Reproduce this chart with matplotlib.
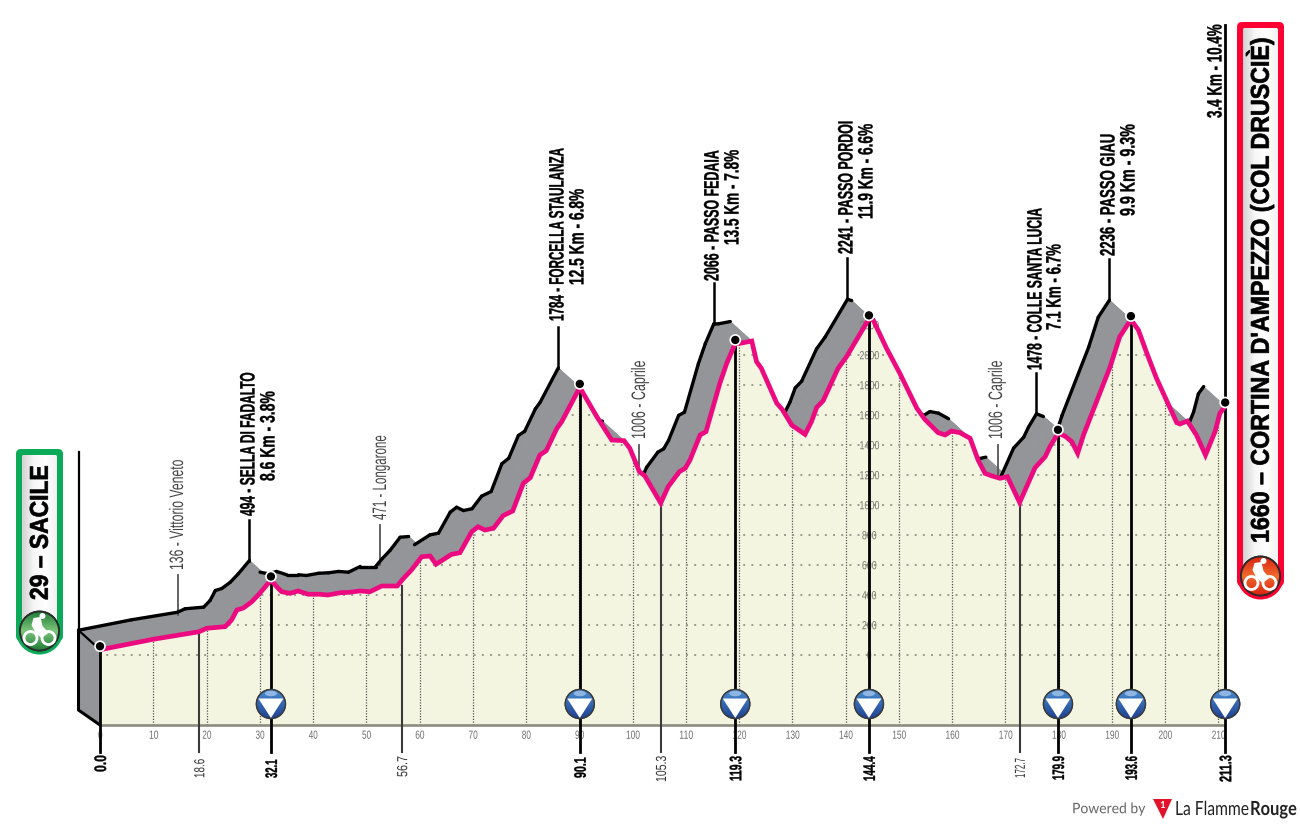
import numpy as np
import matplotlib
matplotlib.use("Agg")
import matplotlib.pyplot as plt
from matplotlib.colors import LinearSegmentedColormap
from matplotlib.font_manager import FontProperties
from matplotlib.patches import Circle, Ellipse, FancyBboxPatch, Polygon
from matplotlib.patheffects import AbstractPathEffect
from matplotlib.textpath import TextPath
from matplotlib.transforms import Affine2D

# profile of the stage
km = [0, 10.0, 18.6, 20.0, 23.5, 24.7, 25.7, 26.9, 28.5, 30.0, 32.1, 33.2, 34.1, 35.7, 37.2, 39.1,
      41.3, 42.8, 45.1, 46.9, 48.8, 50.7, 52.9, 55.8, 57.0, 58.5, 60.4, 62.0, 63.1, 66.0, 67.6,
      69.8, 71.0, 72.3, 73.9, 75.7, 77.5, 79.5, 80.8, 82.6, 83.8, 85.8, 86.7, 90.1, 93.3, 96.1,
      98.4, 99.5, 101.3, 102.3, 105.3, 106.7, 108.8, 109.9, 110.8, 112.7, 113.8, 116.4, 117.7,
      119.3, 120.2, 122.4, 123.3, 124.2, 127.1, 128.1, 129.9, 132.4, 133.6, 134.6, 135.8, 138.6,
      140.2, 144.4, 145.2, 147.7, 150.2, 153.4, 154.9, 157.4, 158.7, 159.9, 161.5, 163.4, 164.9,
      166.2, 167.4, 169.0, 170.4, 172.7, 175.6, 177.5, 178.4, 179.9, 181.2, 182.5, 183.6, 184.7,
      189.7, 191.5, 193.6, 195.0, 196.6, 198.4, 202.2, 202.8, 204.2, 205.9, 207.6, 209.4, 210.3,
      211.3]
elevation = [35, 105, 155, 178, 189, 233, 300, 313, 355, 411, 500, 455, 422, 411, 427, 405,
             405, 400, 415, 418, 427, 422, 460, 460, 511, 567, 655, 660, 605, 671, 682,
             822, 855, 833, 845, 929, 960, 1145, 1182, 1333, 1362, 1511, 1555, 1784, 1589, 1433,
             1429, 1378, 1222, 1195, 1013, 1122, 1222, 1245, 1300, 1467, 1489, 1811, 1945,
             2077, 2078, 2093, 1955, 1911, 1678, 1638, 1533, 1471, 1555, 1651, 1695, 1911,
             1989, 2241, 2233, 2045, 1878, 1645, 1571, 1482, 1467, 1493, 1482, 1445, 1300,
             1211, 1195, 1178, 1189, 1017, 1249, 1322, 1389, 1478, 1460, 1422, 1345, 1467,
             1922, 2122, 2236, 2167, 2011, 1845, 1549, 1540, 1560, 1467, 1333, 1489, 1611,
             1660]

km_ticks = list(range(0, 220, 10))
ele_ticks = list(range(0, 2400, 200))

# climbs (peak km / m, and the two lines of text)
climb_km = [32.1, 90.1, 119.3, 144.4, 179.9, 193.6]
climb_ele = [500, 1784, 2077, 2241, 1478, 2236]
climb_names = ["494 - SELLA DI FADALTO", "1784 - FORCELLA STAULANZA", "2066 - PASSO FEDAIA",
               "2241 - PASSO PORDOI", "1478 - COLLE SANTA LUCIA", "2236 - PASSO GIAU"]
climb_stats = ["8.6 Km - 3.8%", "12.5 Km - 6.8%", "13.5 Km - 7.8%",
               "11.9 Km - 6.6%", "7.1 Km - 6.7%", "9.9 Km - 9.3%"]

# towns
town_km = [18.6, 56.7, 105.3, 172.7]
town_ele = [136, 471, 1006, 1006]
town_names = ["136 - Vittorio Veneto", "471 - Longarone", "1006 - Caprile", "1006 - Caprile"]

# kms marked below the axis
bold_km = [0.0, 32.1, 90.1, 119.3, 144.4, 179.9, 193.6, 211.3]
bold_start_ele = [35, 500, 1784, 2077, 2241, 1478, 2236, 1660]
thin_km = [18.6, 56.7, 105.3, 172.7]
thin_start_ele = [155, 460, 1013, 1017]
marker_km = [32.1, 90.1, 119.3, 144.4, 179.9, 193.6, 211.3]

PINK = "#EC0A80"
GREY = "#939598"
FILL = "#F4F5E1"
GREEN = "#0BAA58"
RED = "#FF0033"

# scale of the picture: px per km and px per metre
PX_KM = 5.325
PX_M = 0.15
BACK_X = -21.5 / PX_KM
BACK_Y = 19.5 / PX_M
BASE = -467
BELOW = -647
CAP_MID = 36  # half the cap height in text path units


class FitText(AbstractPathEffect):
    # squeeze the glyphs along the baseline to a length in px, stretch them across it
    def __init__(self, length, tall=1.0, stroke=0.0):
        self.length = length
        self.tall = tall
        self.stroke = stroke

    def draw_path(self, renderer, gc, tpath, affine, rgbFace=None):
        box = tpath.get_extents()
        unit = np.hypot(*(affine.transform_point((1, 0)) - affine.transform_point((0, 0))))
        k = self.length / (box.width * unit)
        fit = Affine2D().translate(-box.x0, -CAP_MID).scale(k, self.tall).translate(box.x0, 0)
        gc0 = renderer.new_gc()
        gc0.copy_properties(gc)
        if self.stroke:
            gc0.set_linewidth(self.stroke)
            gc0.set_foreground(gc.get_rgb())
        renderer.draw_path(gc0, tpath, fit + affine, rgbFace)
        gc0.restore()


def fitted(s, size, length, weight, family, stroke=0.0):
    # nominal size whose natural width is no more than the wanted length
    prop = FontProperties(family=family, weight=weight)
    natural = TextPath((0, 0), s, size=size, prop=prop).get_extents().width * 100 / 72
    nominal = size * min(1.0, length / natural)
    return nominal, [FitText(length, size / nominal, stroke)]


fig = plt.figure(figsize=(13, 8.25), dpi=100)
ax = fig.add_axes([0, 0, 1, 1], zorder=1)
ax.set_xlim(-100 / PX_KM, 1200 / PX_KM)
ax.set_ylim((655 - 825) / PX_M, 655 / PX_M)
ax.axis("off")
ov = fig.add_axes([0, 0, 1, 1], zorder=2)
ov.set_xlim(0, 1300)
ov.set_ylim(825, 0)
ov.axis("off")
ov.patch.set_alpha(0)


def to_px(x, y):
    return ov.transData.inverted().transform(ax.transData.transform((x, y)))


def vtext(x, y0, y1, s, size, weight="bold", color="black", z=10, stroke=0.25):
    nominal, fx = fitted(s, size, y0 - y1, weight, "Liberation Sans", stroke)
    ov.text(x, y0, s, rotation=90, rotation_mode="anchor", ha="left", va="baseline",
            family="Liberation Sans", fontsize=nominal, fontweight=weight, color=color,
            zorder=z, path_effects=fx)


def htext(axis, x, y, w, s, size, color, weight="normal", family="Liberation Sans", z=10):
    nominal, fx = fitted(s, size, w, weight, family)
    axis.text(x, y, s, ha="left", va="baseline", family=family, fontsize=nominal, fontweight=weight,
              color=color, zorder=z, path_effects=fx)


def gradient(patch, extent, colors, horizontal=False, z=5):
    cmap = LinearSegmentedColormap.from_list("g", colors)
    vals = np.linspace(0, 1, 128)
    arr = vals[None, :] if horizontal else vals[:, None]
    im = ov.imshow(arr, cmap=cmap, extent=extent, aspect="auto", zorder=z,
                   interpolation="bilinear")
    im.set_clip_path(patch)
    ov.set_xlim(0, 1300)
    ov.set_ylim(825, 0)


# grey side of the road, one quad per segment
for i in range(len(km) - 1):
    quad = [(km[i], elevation[i]), (km[i + 1], elevation[i + 1]),
            (km[i + 1] + BACK_X, elevation[i + 1] + BACK_Y), (km[i] + BACK_X, elevation[i] + BACK_Y)]
    ax.add_patch(Polygon(quad, closed=True, fc=GREY, ec=GREY, lw=0.5, zorder=1))
    drop = (elevation[i] - elevation[i + 1]) * PX_M / ((km[i + 1] - km[i]) * PX_KM)
    if drop < 0.62:
        ax.plot([km[i] + BACK_X, km[i + 1] + BACK_X],
                [elevation[i] + BACK_Y, elevation[i + 1] + BACK_Y],
                color="black", lw=2.4, solid_capstyle="round", zorder=1.5)

# back wall at the start
ax.add_patch(Polygon([(km[0], elevation[0]), (km[0], BASE), (km[0] + BACK_X, BASE + 100),
                      (km[0] + BACK_X, elevation[0] + BACK_Y)], closed=True, fc=GREY, ec="none", zorder=1))
ax.plot([km[0] + BACK_X, km[0] + BACK_X, km[0]], [elevation[0] + BACK_Y, BASE + 100, BASE],
        color="black", lw=2.2, zorder=1.6)
ax.plot([km[0] + BACK_X, km[0]], [elevation[0] + BACK_Y, elevation[0]], color="black", lw=1.6, zorder=1.6)
ax.plot([km[0] + BACK_X] * 2, [elevation[0] + BACK_Y, (655 - 452) / PX_M], color="black", lw=1.6, zorder=1.6)

# town call-outs sit on the back edge
for k_, e_ in zip(town_km, town_ele):
    ax.plot([k_ + BACK_X] * 2, [e_ + BACK_Y, e_ + BACK_Y + 40 / PX_M], color="#555555", lw=1.3, zorder=1.4)

# climb call-outs
for k_, e_ in zip(climb_km, climb_ele):
    ax.plot([k_ + BACK_X] * 2, [e_ + BACK_Y, e_ + BACK_Y + 41 / PX_M], color="black", lw=1.8, zorder=1.6)

# road surface and grid
surface = Polygon(list(zip(km, elevation)) + [(km[-1], BASE), (km[0], BASE)], closed=True,
                  fc=FILL, ec="none", zorder=2)
ax.add_patch(surface)
for t in km_ticks:
    ln, = ax.plot([t, t], [BASE, 2400], color="#555555", lw=0.9, ls=(0, (1, 1.2)), zorder=3)
    ln.set_clip_path(surface)
for t in ele_ticks:
    ln, = ax.plot([0, km[-1]], [t, t], color="#9B9B8C", lw=1.4, ls=(1, (1, 3.2)), zorder=3)
    ln.set_clip_path(surface)
    w = 19 if t >= 1000 else (14 if t else 4)
    htext(ax, 144.4 - w / 2 / PX_KM, t, w, str(t), 8.5, "#77776F", z=3.5)

ax.plot([km[0], km[-1]], [BASE, BASE], color="#8C8C7E", lw=1.9, zorder=4, solid_capstyle="butt")

# tick labels
for t in km_ticks:
    w = 4 if t == 0 else (8.5 if t < 100 else 13)
    htext(ax, t - w / 2 / PX_KM, (655 - 734.5) / PX_M, w, str(t), 8.5, "#6E6E6E", z=3.5)

# drop lines to the km labels
for k_, e_ in zip(thin_km, thin_start_ele):
    ax.plot([k_, k_], [e_, BELOW], color="#3A3A3A", lw=1.5, zorder=4.5)
for k_, e_ in zip(bold_km, bold_start_ele):
    ax.plot([k_, k_], [e_, BELOW], color="black", lw=2.0, zorder=4.5)

# the race route
ax.plot(km, elevation, color=PINK, lw=3.4, solid_joinstyle="miter", solid_capstyle="butt", zorder=6)

# climb text (line one, line two: x, bottom, top in px)
name_pos = [(247, 516, 373), (556, 321, 149), (711, 281, 151), (845, 254, 122), (1034, 370, 209), (1107, 256, 135)]
stat_pos = [(267, 481, 392), (576, 285, 190), (731, 245, 151), (865, 219, 125), (1053, 330, 245), (1127, 216, 125)]
for s, (x, y0, y1) in zip(climb_names, name_pos):
    vtext(x, y0, y1, s, 15)
for s, (x, y0, y1) in zip(climb_stats, stat_pos):
    vtext(x, y0, y1, s, 15)
ov.plot([1225, 1225], [25, 400], color="black", lw=2.0, zorder=4)
vtext(1214, 118, 25, "3.4 Km - 10.4%", 15)

# town text
town_pos = [(176, 570, 461), (379, 520, 436), (638, 439, 362), (995, 439, 362)]
for s, (x, y0, y1) in zip(town_names, town_pos):
    vtext(x, y0, y1, s, 14, weight="normal", color="#444444", stroke=0.0)

# km text below the axis
thin_pos = [(778, 760), (777, 757), (782, 757), (778, 759)]
for k_, (y0, y1) in zip(thin_km, thin_pos):
    x, _ = to_px(k_, 0)
    vtext(x, y0, y1, f"{k_:.1f}", 10.5, weight="normal", color="#333333", stroke=0.0)
bold_pos = [(772, 756), (778, 760), (778, 758), (781, 757), (781, 757), (780, 757), (780, 757), (782, 756)]
for k_, (y0, y1) in zip(bold_km, bold_pos):
    x, _ = to_px(k_, 0)
    vtext(x, y0, y1, f"{k_:.1f}", 12)

# KOM dots
for k_, e_ in zip(bold_km, bold_start_ele):
    x, y = to_px(k_, e_)
    ov.add_patch(Circle((x, y - 3.5), 5.0, fc="black", ec="white", lw=1.2, zorder=7))

# summit markers
for k_ in marker_km:
    x, _ = to_px(k_, 0)
    y = 704
    c = Circle((x, y), 14.5, fc="#2A5CA8", ec="#3A3A3A", lw=1.0, zorder=7)
    ov.add_patch(c)
    gradient(c, (x - 15, x + 15, y + 15, y - 15), ["#4A8FD0", "#1F3F90"], z=7.1)
    ov.add_patch(Ellipse((x, y - 10.5), 12, 5.5, fc="#8FB6E3", ec="none", zorder=7.2))
    ov.add_patch(Polygon([(x - 12.5, y - 5.5), (x + 12.5, y - 5.5), (x, y + 14)], closed=True, fc="white", ec="none", zorder=7.3))
    ov.add_patch(Circle((x, y), 14.5, fc="none", ec="#3A3A3A", lw=1.0, zorder=7.4))


def cyclist(cx, cy, top, bottom):
    ring = Circle((cx, cy), 19.5, fc=top, ec="#2A2A2A", lw=1.3, zorder=6)
    ov.add_patch(ring)
    gradient(ring, (cx - 20, cx + 20, cy + 20, cy - 20), [bottom, top, bottom], z=6.1)
    ov.add_patch(Circle((cx, cy), 19.5, fc="none", ec="#2A2A2A", lw=1.3, zorder=6.2))
    ov.add_patch(Circle((cx - 9, cy + 7), 6.5, fc="none", ec="white", lw=2.0, zorder=6.3))
    ov.add_patch(Circle((cx + 9, cy + 7), 6.5, fc="none", ec="white", lw=2.0, zorder=6.3))
    ov.add_patch(Polygon([(cx - 6, cy - 13), (cx + 1, cy - 14), (cx + 3, cy - 5), (cx + 9, cy + 2),
                          (cx + 2, cy + 7), (cx - 4, cy + 2), (cx - 8, cy - 6)], closed=True,
                         fc="white", ec="none", zorder=6.4))
    ov.add_patch(Circle((cx + 3, cy - 15), 3, fc="white", ec="none", zorder=6.4))


def banner(x0, x1, y0, y1, cy, color, top, bottom, text, ty0, ty1, size):
    cx = (x0 + x1) / 2
    ov.add_patch(FancyBboxPatch((x0 + 5, y0 + 5), x1 - x0 - 10, cy - y0, boxstyle="round,pad=5", fc=color, ec="none", zorder=4))
    ov.add_patch(Circle((cx, cy), (x1 - x0) / 2, fc=color, ec="none", zorder=4))
    inner = FancyBboxPatch((x0 + 8, y0 + 8), x1 - x0 - 16, cy - y0 - 8, boxstyle="round,pad=2", fc="white", ec="none", zorder=5)
    ov.add_patch(inner)
    gradient(inner, (x0 + 6, x1 - 6, cy, y0 + 6), ["#D2D2D2", "#F6F6F6", "#FFFFFF", "#F2F2F2"], horizontal=True, z=5.1)
    cyclist(cx, cy, top, bottom)
    vtext(cx - 1, ty0, ty1, text, size, z=8, stroke=0.5)


banner(16, 63, 449, 655, 631, GREEN, "#7CC57A", "#1D7A35", "29 – SACILE", 600, 467, 18.5)
banner(1237, 1284, 22, 599, 576, RED, "#F26A2E", "#D8200F", "1660 – CORTINA D'AMPEZZO (COL DRUSCIÈ)", 543, 40, 18.5)

# brand line
htext(ov, 1072, 808, 72, "Powered by", 10.5, "#666666", family="Lato")
ov.add_patch(Polygon([(1153, 799), (1172, 799), (1163, 819)], closed=True, fc="#E2122B", ec="none", zorder=9))
ov.text(1162.5, 805, "1", color="white", fontsize=7, fontweight="bold", ha="center", va="center", family="Lato", zorder=10)
htext(ov, 1175, 808, 72, "La Flamme", 14, "#222222", family="Lato")
htext(ov, 1250, 808, 45, "Rouge", 14, "#222222", weight="bold", family="Lato")

fig.savefig("out.png", dpi=100)
